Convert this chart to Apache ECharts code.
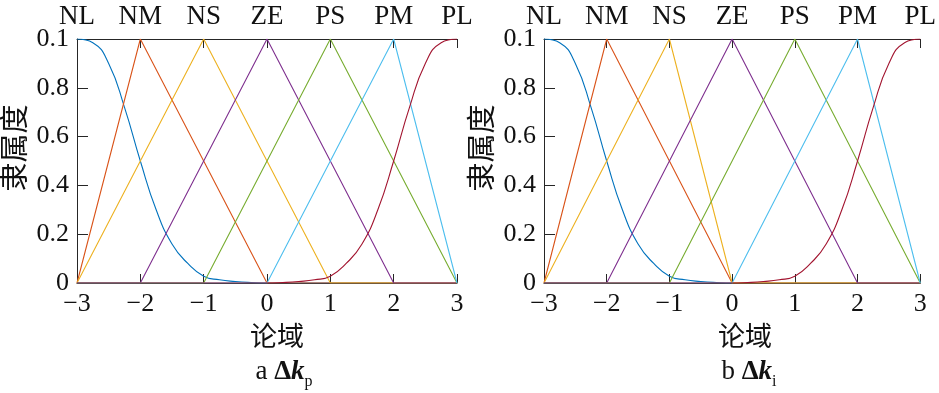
<!DOCTYPE html>
<html>
<head>
<meta charset="utf-8">
<script src="https://cdn.jsdelivr.net/npm/echarts@6/dist/echarts.min.js"></script>
<style>
html,body{margin:0;padding:0;background:#fff;}
#chart{width:939px;height:393px;}
</style>
</head>
<body>
<div id="chart"></div>
<script>
// ---- data ----
const xTicks = [-3, -2, -1, 0, 1, 2, 3];
const xTickLabels = ['\u22123', '\u22122', '\u22121', '0', '1', '2', '3'];
const termLabels = ['NL', 'NM', 'NS', 'ZE', 'PS', 'PM', 'PL'];
const yTickValues = [0, 0.2, 0.4, 0.6, 0.8, 1];
const yTickLabels = ['0', '0.2', '0.4', '0.6', '0.8', '0.1'];

// NL (Z-shaped) curve, same in both panels
const nlX = [-3, -2.75, -2.5, -2.25, -2, -1.75, -1.5, -1.25, -1, -0.75, -0.5, -0.25, 0, 0.25, 0.5, 1, 2, 3];
const nlY = [1, 0.985, 0.9, 0.72, 0.5, 0.3, 0.16, 0.08, 0.028, 0.013, 0.006, 0.002, 0, 0, 0, 0, 0, 0];
// PL (S-shaped) curve, same in both panels
const plX = [-3, -2, -1, -0.5, -0.25, 0, 0.25, 0.5, 0.75, 1, 1.25, 1.5, 1.75, 2, 2.25, 2.5, 2.75, 3];
const plY = [0, 0, 0, 0, 0, 0, 0.002, 0.006, 0.013, 0.028, 0.08, 0.16, 0.3, 0.5, 0.72, 0.9, 0.985, 1];

// triangular sets, panel a (Δkp)
const aNMx = [-3, -2, 0, 3];   const aNMy = [0, 1, 0, 0];
const aNSx = [-3, -1, 1, 3];   const aNSy = [0, 1, 0, 0];
const aZEx = [-3, -2, 0, 2, 3]; const aZEy = [0, 0, 1, 0, 0];
const aPSx = [-3, -1, 1, 3];   const aPSy = [0, 0, 1, 0];
const aPMx = [-3, 0, 2, 3];    const aPMy = [0, 0, 1, 0];

// triangular sets, panel b (Δki)
const bNMx = [-3, -2, 0, 3];   const bNMy = [0, 1, 0, 0];
const bNSx = [-3, -1, 0, 3];   const bNSy = [0, 1, 0, 0];
const bZEx = [-3, -2, 0, 2, 3]; const bZEy = [0, 0, 1, 0, 0];
const bPSx = [-3, -1, 1, 3];   const bPSy = [0, 0, 1, 0];
const bPMx = [-3, 0, 2, 3];    const bPMy = [0, 0, 1, 0];

const colors = ['#0072BD', '#D95319', '#EDB120', '#7E2F8E', '#77AC30', '#4DBEEE', '#A2142F'];

// ---- build ----
const zip = (xs, ys) => xs.map((x, i) => [x, ys[i]]);
const AX = '#262626';
const serif = 'Liberation Serif';
const cjk = 'Noto Sans CJK SC';

function xAxisBottom(gi) {
  return {
    gridIndex: gi, type: 'value', position: 'bottom', min: -3, max: 3, interval: 1,
    axisLine: {show: true, onZero: false, lineStyle: {color: AX, width: 1}},
    axisTick: {show: true, inside: true, length: 9, lineStyle: {color: AX}},
    axisLabel: {
      color: '#111', fontFamily: serif, fontSize: 26, margin: 8,
      formatter: v => xTickLabels[xTicks.indexOf(Math.round(v))]
    },
    splitLine: {show: false}
  };
}
function xAxisTop(gi) {
  return {
    gridIndex: gi, type: 'value', position: 'top', min: -3, max: 3, interval: 1,
    axisLine: {show: true, onZero: false, lineStyle: {color: AX, width: 1}},
    axisTick: {show: true, inside: true, length: 9, lineStyle: {color: AX}},
    axisLabel: {
      color: '#111', fontFamily: serif, fontSize: 27, margin: 9,
      formatter: v => termLabels[xTicks.indexOf(Math.round(v))]
    },
    splitLine: {show: false}
  };
}
function yAxisLeft(gi) {
  return {
    gridIndex: gi, type: 'value', min: 0, max: 1, interval: 0.2,
    axisLine: {show: true, onZero: false, lineStyle: {color: AX, width: 1}},
    axisTick: {show: true, inside: true, length: 11, lineStyle: {color: AX}},
    axisLabel: {
      color: '#111', fontFamily: serif, fontSize: 26, margin: 8,
      formatter: v => {
        let k = yTickValues.findIndex(t => Math.abs(t - v) < 1e-6);
        return k >= 0 ? yTickLabels[k] : '';
      }
    },
    splitLine: {show: false}
  };
}

function lineSeries(gi, xs, ys, color, smooth) {
  return {
    type: 'line', xAxisIndex: gi * 2, yAxisIndex: gi,
    data: zip(xs, ys), showSymbol: false, symbol: 'none',
    smooth: smooth ? 0.5 : false,
    lineStyle: {color: color, width: 1.1}, itemStyle: {color: color},
    silent: true
  };
}

const panels = [
  [[nlX, nlY, true], [aNMx, aNMy], [aNSx, aNSy], [aZEx, aZEy], [aPSx, aPSy], [aPMx, aPMy], [plX, plY, true]],
  [[nlX, nlY, true], [bNMx, bNMy], [bNSx, bNSy], [bZEx, bZEy], [bPSx, bPSy], [bPMx, bPMy], [plX, plY, true]]
];
const series = [];
panels.forEach((p, gi) => p.forEach((s, si) => series.push(lineSeries(gi, s[0], s[1], colors[si], s[2]))));

function caption(x, letter, sub) {
  return {
    type: 'text', x: x, y: 372, silent: true,
    style: {
      text: '{n|' + letter + ' }{d|\u0394}{k|k}{s|' + sub + '}',
      align: 'center', verticalAlign: 'middle',
      rich: {
        n: {fontFamily: serif, fontSize: 27, fill: '#111', lineHeight: 36, verticalAlign: 'middle'},
        d: {fontFamily: serif, fontSize: 27, fontWeight: 'bold', fill: '#111', lineHeight: 36, verticalAlign: 'middle'},
        k: {fontFamily: serif, fontSize: 27, fontStyle: 'italic', fontWeight: 'bold', fill: '#111', lineHeight: 36, verticalAlign: 'middle'},
        s: {fontFamily: serif, fontSize: 16, fill: '#111', lineHeight: 18, verticalAlign: 'bottom'}
      }
    }
  };
}
function ylabel(x) {
  return {
    type: 'text', x: x, y: 148, rotation: Math.PI / 2, silent: true,
    style: {text: '隶属度', fontFamily: cjk, fontSize: 29, fill: '#111', align: 'center', verticalAlign: 'middle'}
  };
}
function xlabel(x) {
  return {
    type: 'text', x: x, y: 336, silent: true,
    style: {text: '论域', fontFamily: cjk, fontSize: 27, fill: '#111', align: 'center', verticalAlign: 'middle'}
  };
}

const option = {
  animation: false,
  backgroundColor: '#fff',
  grid: [
    {left: 77, top: 39, width: 380, height: 244, containLabel: false},
    {left: 544, top: 39, width: 380, height: 244, containLabel: false}
  ],
  xAxis: [xAxisBottom(0), xAxisTop(0), xAxisBottom(1), xAxisTop(1)],
  yAxis: [yAxisLeft(0), yAxisLeft(1)],
  series: series,
  graphic: [ylabel(14), ylabel(481), xlabel(277), xlabel(745), caption(284, 'a', 'p'), caption(749, 'b', 'i')]
};

const chart = echarts.init(document.getElementById('chart'), null, {renderer: 'canvas'});
chart.setOption(option);
</script>
</body>
</html>
